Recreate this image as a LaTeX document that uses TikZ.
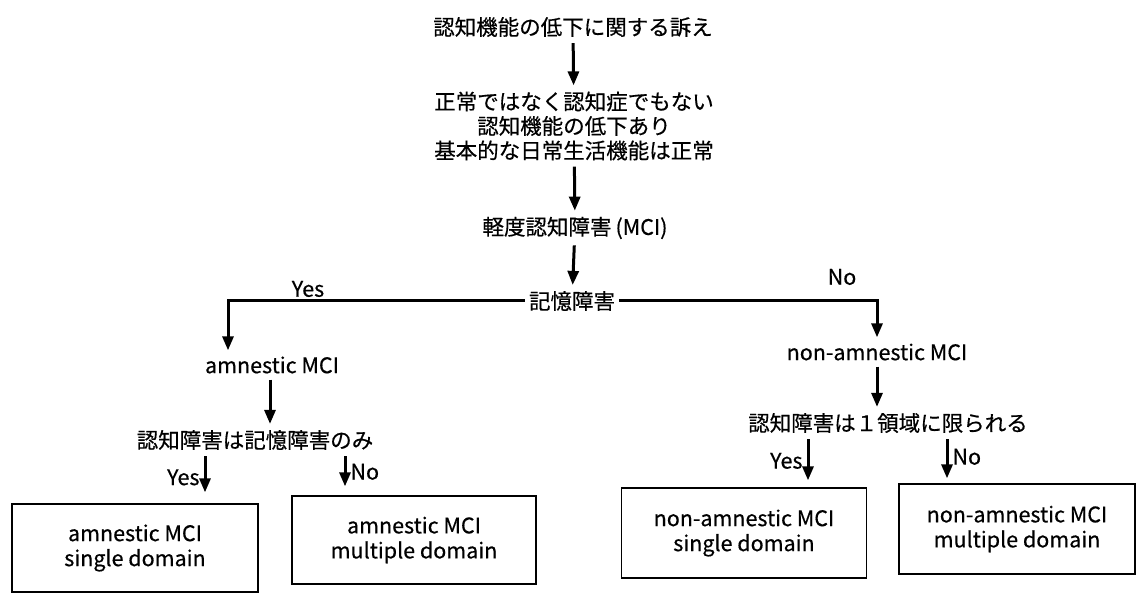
\documentclass[tikz,border=0pt]{standalone}
\usepackage{fontspec}
\setmainfont{Noto Sans CJK JP}[FakeBold=0.5]
\usetikzlibrary{arrows.meta}
\begin{document}
\begin{tikzpicture}[x=1pt,y=-1pt,
  txt/.style={inner xsep=4pt, inner ysep=6pt, font=\fontsize{21.5}{24.5}\selectfont, align=center},
  arr/.style={line width=3pt, -{Triangle[length=14pt,width=11pt]}},
  outcome/.style={draw, line width=1.3pt, align=center, inner sep=0pt,
    font=\fontsize{21.5}{25}\selectfont},
  lab/.style={font=\fontsize{21.5}{24}\selectfont, inner sep=4pt}]
\useasboundingbox (0,0) rectangle (1137,593);

% main chain
\node[txt] (t1) at (573,27) {認知機能の低下に関する訴え};
\node[txt] (t2) at (574,126) {正常ではなく認知症でもない\\認知機能の低下あり\\基本的な日常生活機能は正常};
\node[txt] (t3) at (575,228) {軽度認知障害\hspace{4pt}(MCI)};
\node[txt] (t4) at (572,301) {記憶障害};

\draw[arr] (t1) -- (t2);
\draw[arr] (t2) -- (t3);
\draw[arr] (t3) -- (t4);

% branches
\node[txt] (am) at (272,365) {amnestic MCI};
\node[txt] (nam) at (877,352) {non-amnestic MCI};

\draw[arr] (t4.west) -| ([xshift=-44pt]am.north);
\draw[arr] (t4.east) -| (nam.north);
\node[lab] (yes0) at (308,289) {Yes};
\node[lab] (no0) at (842,277) {No};

% questions
\node[txt] (q1) at (255,440) {認知障害は記憶障害のみ};
\node[txt] (q2) at (888,423) {認知障害は１領域に限られる};

\draw[arr] (am.south -| 270,0) -- (q1.north -| 270,0);
\draw[arr] (nam.south) -- (nam.south |- q2.north);

% outcome boxes
\node[outcome, minimum width=246pt, minimum height=88pt] (b1) at (135,548) {amnestic MCI\\single domain};
\node[outcome, minimum width=244pt, minimum height=88pt] (b2) at (414,540) {amnestic MCI\\multiple domain};
\node[outcome, minimum width=245pt, minimum height=90pt] (b3) at (744,533) {non-amnestic MCI\\single domain};
\node[outcome, minimum width=236pt, minimum height=90pt] (b4) at (1017,529) {non-amnestic MCI\\multiple domain};

\draw[arr, shorten >=11pt] ([xshift=-50pt]q1.south) -- ([xshift=-50pt]q1.south |- b1.north)
  node[lab, pos=0.45, left] (yes1) {Yes};
\draw[arr, shorten >=9pt] ([xshift=90pt]q1.south) -- ([xshift=90pt]q1.south |- b2.north)
  node[lab, pos=0.4, right] (no1) {No};
\draw[arr, shorten >=7pt] ([xshift=-80pt]q2.south) -- ([xshift=-80pt]q2.south |- b3.north)
  node[lab, pos=0.45, left] (yes2) {Yes};
\draw[arr, shorten >=5pt] ([xshift=59pt]q2.south) -- ([xshift=59pt]q2.south |- b4.north)
  node[lab, pos=0.4, right] (no2) {No};
\end{tikzpicture}
\end{document}
